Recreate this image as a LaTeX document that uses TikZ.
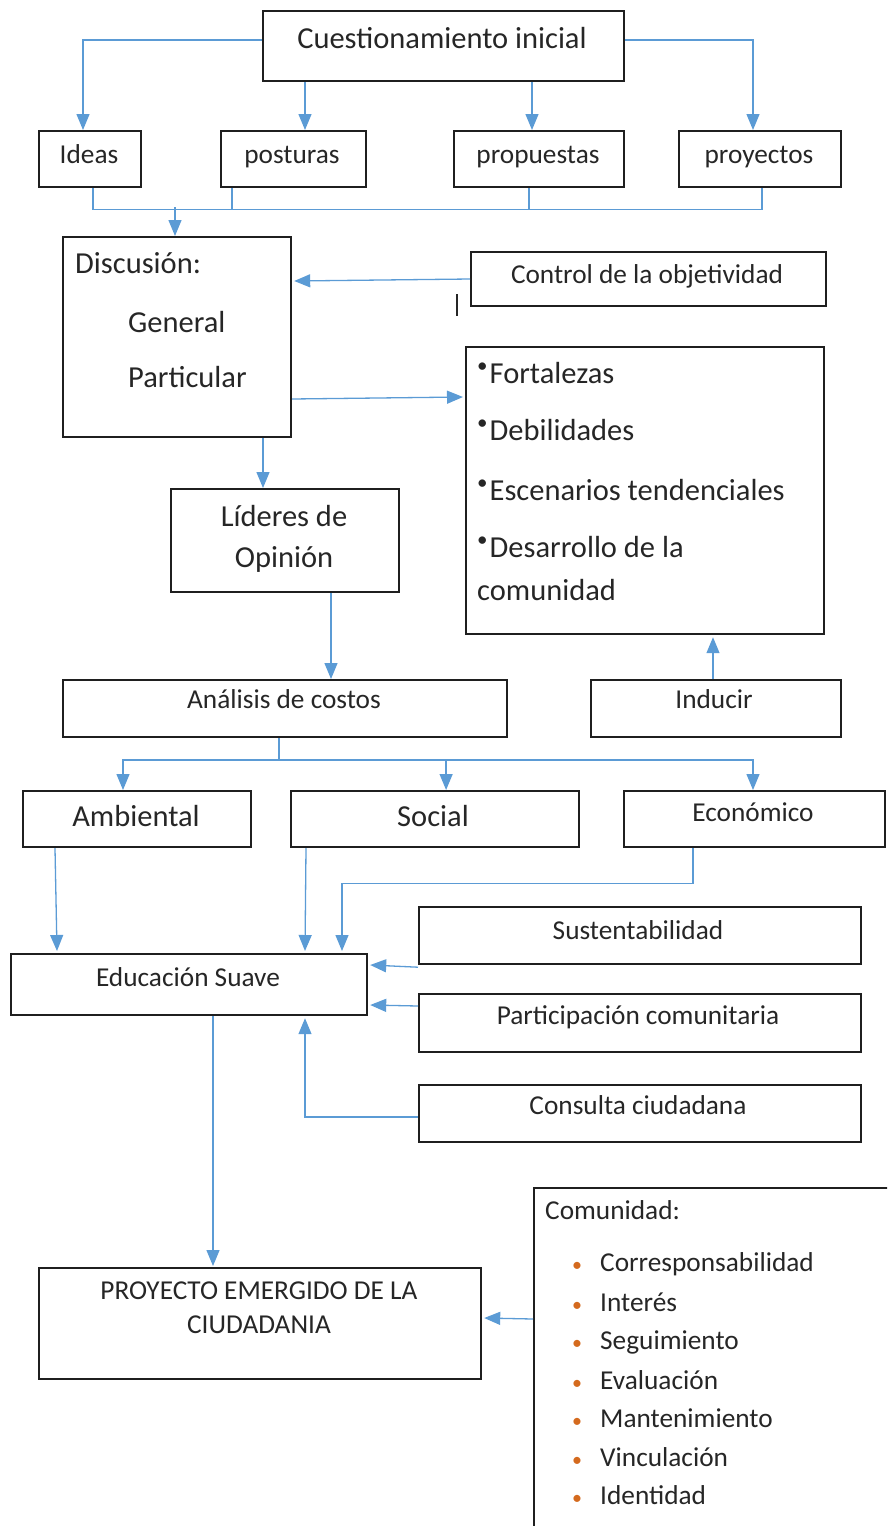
\documentclass[tikz,border=0pt]{standalone}
\usepackage{fontspec}
\setmainfont{Carlito}
\usetikzlibrary{arrows.meta,calc}
\definecolor{ablue}{HTML}{5B9BD5}
\definecolor{txt}{HTML}{262626}
\definecolor{bul}{HTML}{D46A1E}
\tikzset{
 box/.style={draw=black!88, line width=2.2pt, inner sep=0pt, anchor=north west},
 arr/.style={draw=ablue, line width=1.3pt, -{Triangle[width=13pt,length=16pt]}},
 lnk/.style={draw=ablue, line width=1.3pt},
 big/.style={font=\fontsize{30.5}{36}\selectfont, text=txt, inner sep=0pt, anchor=base},
 sml/.style={font=\fontsize{27.3}{33}\selectfont, text=txt, inner sep=0pt, anchor=base},
 bigl/.style={big, anchor=base west},
 smll/.style={sml, anchor=base west},
 obul/.style={font=\fontsize{20}{20}\selectfont, text=bul, inner sep=0pt, anchor=base},
}
\newcommand\bx[5]{\node[box,minimum width=#4pt,minimum height=#5pt] (#1) at (#2,#3) {};}
\newcommand\rbul{\raisebox{0.36em}{\fontsize{21}{21}\selectfont •}\kern2pt}
\begin{document}
\begin{tikzpicture}[x=1pt,y=-1pt]
\useasboundingbox (0,0) rectangle (887,1526);
\clip (0,0) rectangle (887,1526);
% boxes
\bx{cq}{262}{10}{361}{70}
\bx{ideas}{38}{130}{102}{56}
\bx{post}{220}{130}{145}{56}
\bx{prop}{453}{130}{170}{56}
\bx{proy}{678}{130}{162}{56}
\bx{disc}{62}{236}{228}{200}
\bx{ctrl}{470}{251}{355}{54}
\bx{fort}{465}{346}{358}{287}
\bx{lid}{170}{488}{228}{103}
\bx{anal}{62}{679}{444}{57}
\bx{ind}{590}{679}{250}{57}
\bx{amb}{22}{790}{228}{56}
\bx{soc}{290}{790}{288}{56}
\bx{eco}{623}{790}{261}{56}
\bx{edu}{10}{953}{356}{61}
\bx{sus}{418}{906}{442}{57}
\bx{part}{418}{993}{442}{58}
\bx{cons}{418}{1084}{442}{57}
\bx{proj}{38}{1267}{442}{111}
\bx{com}{533}{1187}{420}{420}
% texts
\node[big] (tcq) at (442,48) {Cuestionamiento inicial};
\node[sml] (tideas) at (89,163) {Ideas};
\node[sml] (tpost) at (292,163) {posturas};
\node[sml] (tprop) at (538,163) {propuestas};
\node[sml] (tproy) at (759,163) {proyectos};
\node[bigl] (tdisc) at (75,273) {Discusión:};
\node[bigl] (tgen) at (128,332) {General};
\node[bigl] (tpar) at (128,387) {Particular};
\node[sml] (tctrl) at (647,283) {Control de la objetividad};
\node[bigl] (tf1) at (477,383) {\rbul Fortalezas};
\node[bigl] (tf2) at (477,440) {\rbul Debilidades};
\node[bigl] (tf3) at (477,500) {\rbul Escenarios tendenciales};
\node[bigl] (tf4) at (477,557) {\rbul Desarrollo de la};
\node[bigl] (tf5) at (477,600) {comunidad};
\node[big] (tlid1) at (284,526) {Líderes de};
\node[big] (tlid2) at (284,567) {Opinión};
\node[sml] (tanal) at (284,708) {Análisis de costos};
\node[sml] (tind) at (714,708) {Inducir};
\node[big] (tamb) at (136,826) {Ambiental};
\node[big] (tsoc) at (433,826) {Social};
\node[sml] (teco) at (753,821) {Económico};
\node[sml] (tedu) at (188,986) {Educación Suave};
\node[sml] (tsus) at (638,939) {Sustentabilidad};
\node[sml] (tpart) at (638,1024) {Participación comunitaria};
\node[sml] (tcons) at (638,1114) {Consulta ciudadana};
\node[sml] (tproj1) at (259,1299) {PROYECTO EMERGIDO DE LA};
\node[sml] (tproj2) at (259,1333) {CIUDADANIA};
\node[smll] (tcom) at (545,1219) {Comunidad:};
\foreach \t/\yy [count=\i] in {Corresponsabilidad/1271,Interés/1311,Seguimiento/1349,Evaluación/1389,Mantenimiento/1427,Vinculación/1466,Identidad/1504}{
  \node[obul] (b\i) at (577,\yy) {•};
  \node[smll] (c\i) at (600,\yy) {\t};
}
% cursor mark
\draw[black!85, line width=1.6pt] (457,294) -- (457,316);
% connectors
\draw[arr] ($(cq.north west)+(0,30)$) -| ($(ideas.north west)+(45,0)$);
\draw[arr] ($(cq.north east)+(0,30)$) -| ($(proy.north west)+(75,0)$);
\draw[arr] ($(cq.south west)+(43,0)$) -- ($(post.north west)+(85,0)$);
\draw[arr] ($(cq.south west)+(270,0)$) -- ($(prop.north west)+(79,0)$);
\draw[lnk] ($(ideas.south west)+(55,0)$) -- ++(0,21) -| ($(proy.south west)+(84,0)$);
\draw[lnk] ($(post.south west)+(12,0)$) -- ++(0,21);
\draw[lnk] ($(prop.south west)+(76,0)$) -- ++(0,21);
\coordinate (j1) at (175,207);
\draw[arr] (j1) -- (j1 |- disc.north);
\draw[arr] ($(ctrl.north west)+(0,28)$) -- ($(disc.north east)+(2,45)$);
\draw[arr] ($(disc.north east)+(0,163)$) -- ($(fort.north west)+(-2,51)$);
\draw[arr] ($(disc.south west)+(201,0)$) -- ($(lid.north west)+(93,0)$);
\draw[arr] ($(lid.south west)+(161,0)$) -- ($(anal.north west)+(269,0)$);
\draw[arr] ($(ind.north west)+(123,0)$) -- ($(fort.south west)+(248,2)$);
\coordinate (j2) at (279,760);
\draw[lnk] ($(anal.south west)+(217,0)$) -- (j2);
\draw[arr] (j2) -| ($(amb.north west)+(101,0)$);
\draw[arr] (j2) -| ($(eco.north west)+(130,0)$);
\draw[arr] (j2 -| soc.north) ++(11,0) coordinate (j3) -- (j3 |- soc.north);
\draw[arr] ($(amb.south west)+(33,0)$) -- ($(edu.north west)+(47,-2)$);
\draw[arr] ($(soc.south west)+(16,0)$) -- ($(edu.north west)+(295,-2)$);
\draw[arr] ($(eco.south west)+(70,0)$) -- ++(0,35) -| ($(edu.north west)+(332,-2)$);
\draw[arr] ($(sus.south west)+(0,2)$) -- ($(edu.north east)+(2,12)$);
\draw[arr] ($(part.north west)+(0,13)$) -- ($(edu.north east)+(2,52)$);
\draw[arr] ($(cons.north west)+(0,33)$) -| ($(edu.south west)+(295,2)$);
\draw[arr] ($(edu.south west)+(203,0)$) -- ($(proj.north west)+(175,-1)$);
\draw[arr] ($(com.north west)+(0,132)$) -- ($(proj.north east)+(2,51)$);
\end{tikzpicture}
\end{document}
